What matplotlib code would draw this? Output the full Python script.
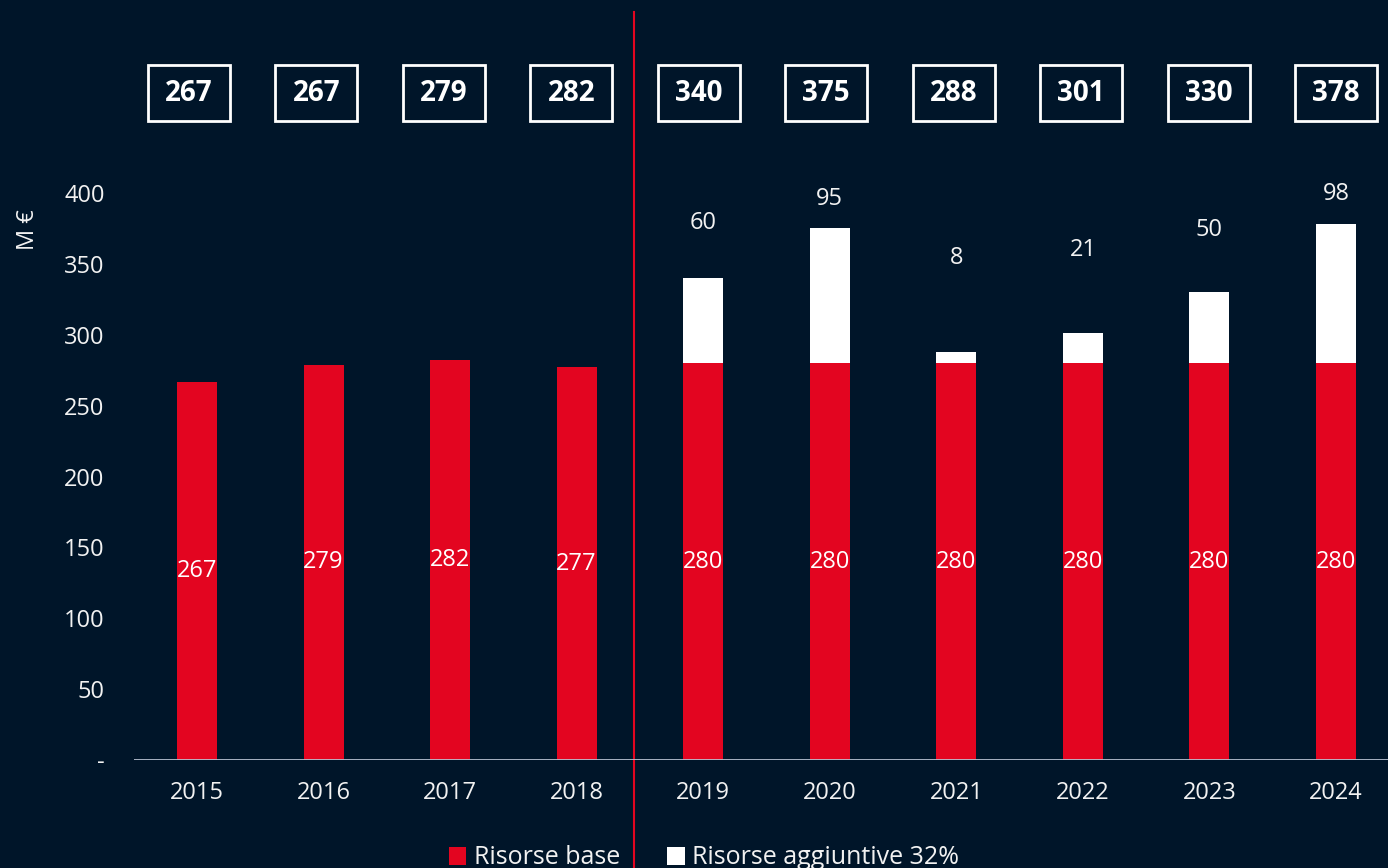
import matplotlib
matplotlib.use('Agg')
import matplotlib.pyplot as plt
from matplotlib.patches import Patch, Rectangle
import numpy as np

plt.rcParams['font.family'] = ['Open Sans', 'DejaVu Sans']

# data
years = ['2015', '2016', '2017', '2018', '2019', '2020', '2021', '2022', '2023', '2024']
base = [267, 279, 282, 277, 280, 280, 280, 280, 280, 280]
extra = [0, 0, 0, 0, 60, 95, 8, 21, 50, 98]
totals = ['267', '267', '279', '282', '340', '375', '288', '301', '330', '378']
extra_label_y = [None, None, None, None, 379, 396, 354, 360, 374, 399]
yticks = [0, 50, 100, 150, 200, 250, 300, 350, 400]
ytick_labels = ['-', '50', '100', '150', '200', '250', '300', '350', '400']

bg = '#001529'
red = '#E30520'
txt = '#F2F2F2'

fig = plt.figure(figsize=(13.88, 8.68), dpi=100)
fig.patch.set_facecolor(bg)
W, H = 1388, 868
step = 126.56
x0 = 197 - step / 2
ax = fig.add_axes([x0 / W, (H - 760) / H, 10 * step / W, (760 - 12) / H])
ax.set_facecolor(bg)

x = np.arange(len(years))
ax.bar(x, base, width=0.316, color=red, zorder=2)
ax.bar(x, extra, width=0.316, bottom=base, color='white', zorder=2)

ax.set_xlim(-0.5, 9.5)
ax.set_ylim(0, 748 / 1.4175)
for s in ax.spines.values():
    s.set_visible(False)
ax.axhline(0, color='#B8C0D0', lw=2, zorder=3)

ax.set_yticks(yticks)
ax.set_yticklabels(ytick_labels)
ax.set_xticks(x)
ax.set_xticklabels(years)
ax.tick_params(axis='both', length=0, colors=txt, labelsize=17)
ax.tick_params(axis='y', pad=21)
ax.tick_params(axis='x', pad=15)

# base labels inside red bars
for i, v in enumerate(base):
    ax.text(i, v / 2, str(v), ha='center', va='center', color='white', fontsize=17, zorder=4)

# additional resources labels
for i, v in enumerate(extra):
    if v > 0:
        ax.text(i, extra_label_y[i], str(v), ha='center', va='center', color=txt, fontsize=17)

# totals in boxes (slightly wider spacing than the bars)
box_x = np.linspace(-0.063, 9.0, len(totals))
bw = 82 / step
bh = 56 / 1.4175
for bx, t in zip(box_x, totals):
    ax.add_patch(Rectangle((bx - bw / 2, 470.5 - bh / 2), bw, bh, fill=False, ec='white', lw=2,
                           clip_on=False))
    ax.text(bx, 470.5, t, ha='center', va='center', color='white', fontsize=20, fontweight='bold')

# separator line between 2018 and 2019
ax.axvline(3.45, ymin=-0.2, ymax=1, color=red, lw=1.5, clip_on=False)

fig.text(28 / W, 1 - 230 / H, 'M €', rotation=90, ha='center', va='center', color=txt, fontsize=17)

handles = [Patch(facecolor=red, label='Risorse base'),
           Patch(facecolor='white', label='Risorse aggiuntive 32%')]
leg = fig.legend(handles=handles, loc='center', bbox_to_anchor=(704 / W, 1 - 858 / H), ncol=2,
                 frameon=False, fontsize=18, handlelength=0.7, handleheight=0.7,
                 handletextpad=0.3, columnspacing=1.9, labelcolor=txt)

fig.savefig('out.png', dpi=100, facecolor=bg)
